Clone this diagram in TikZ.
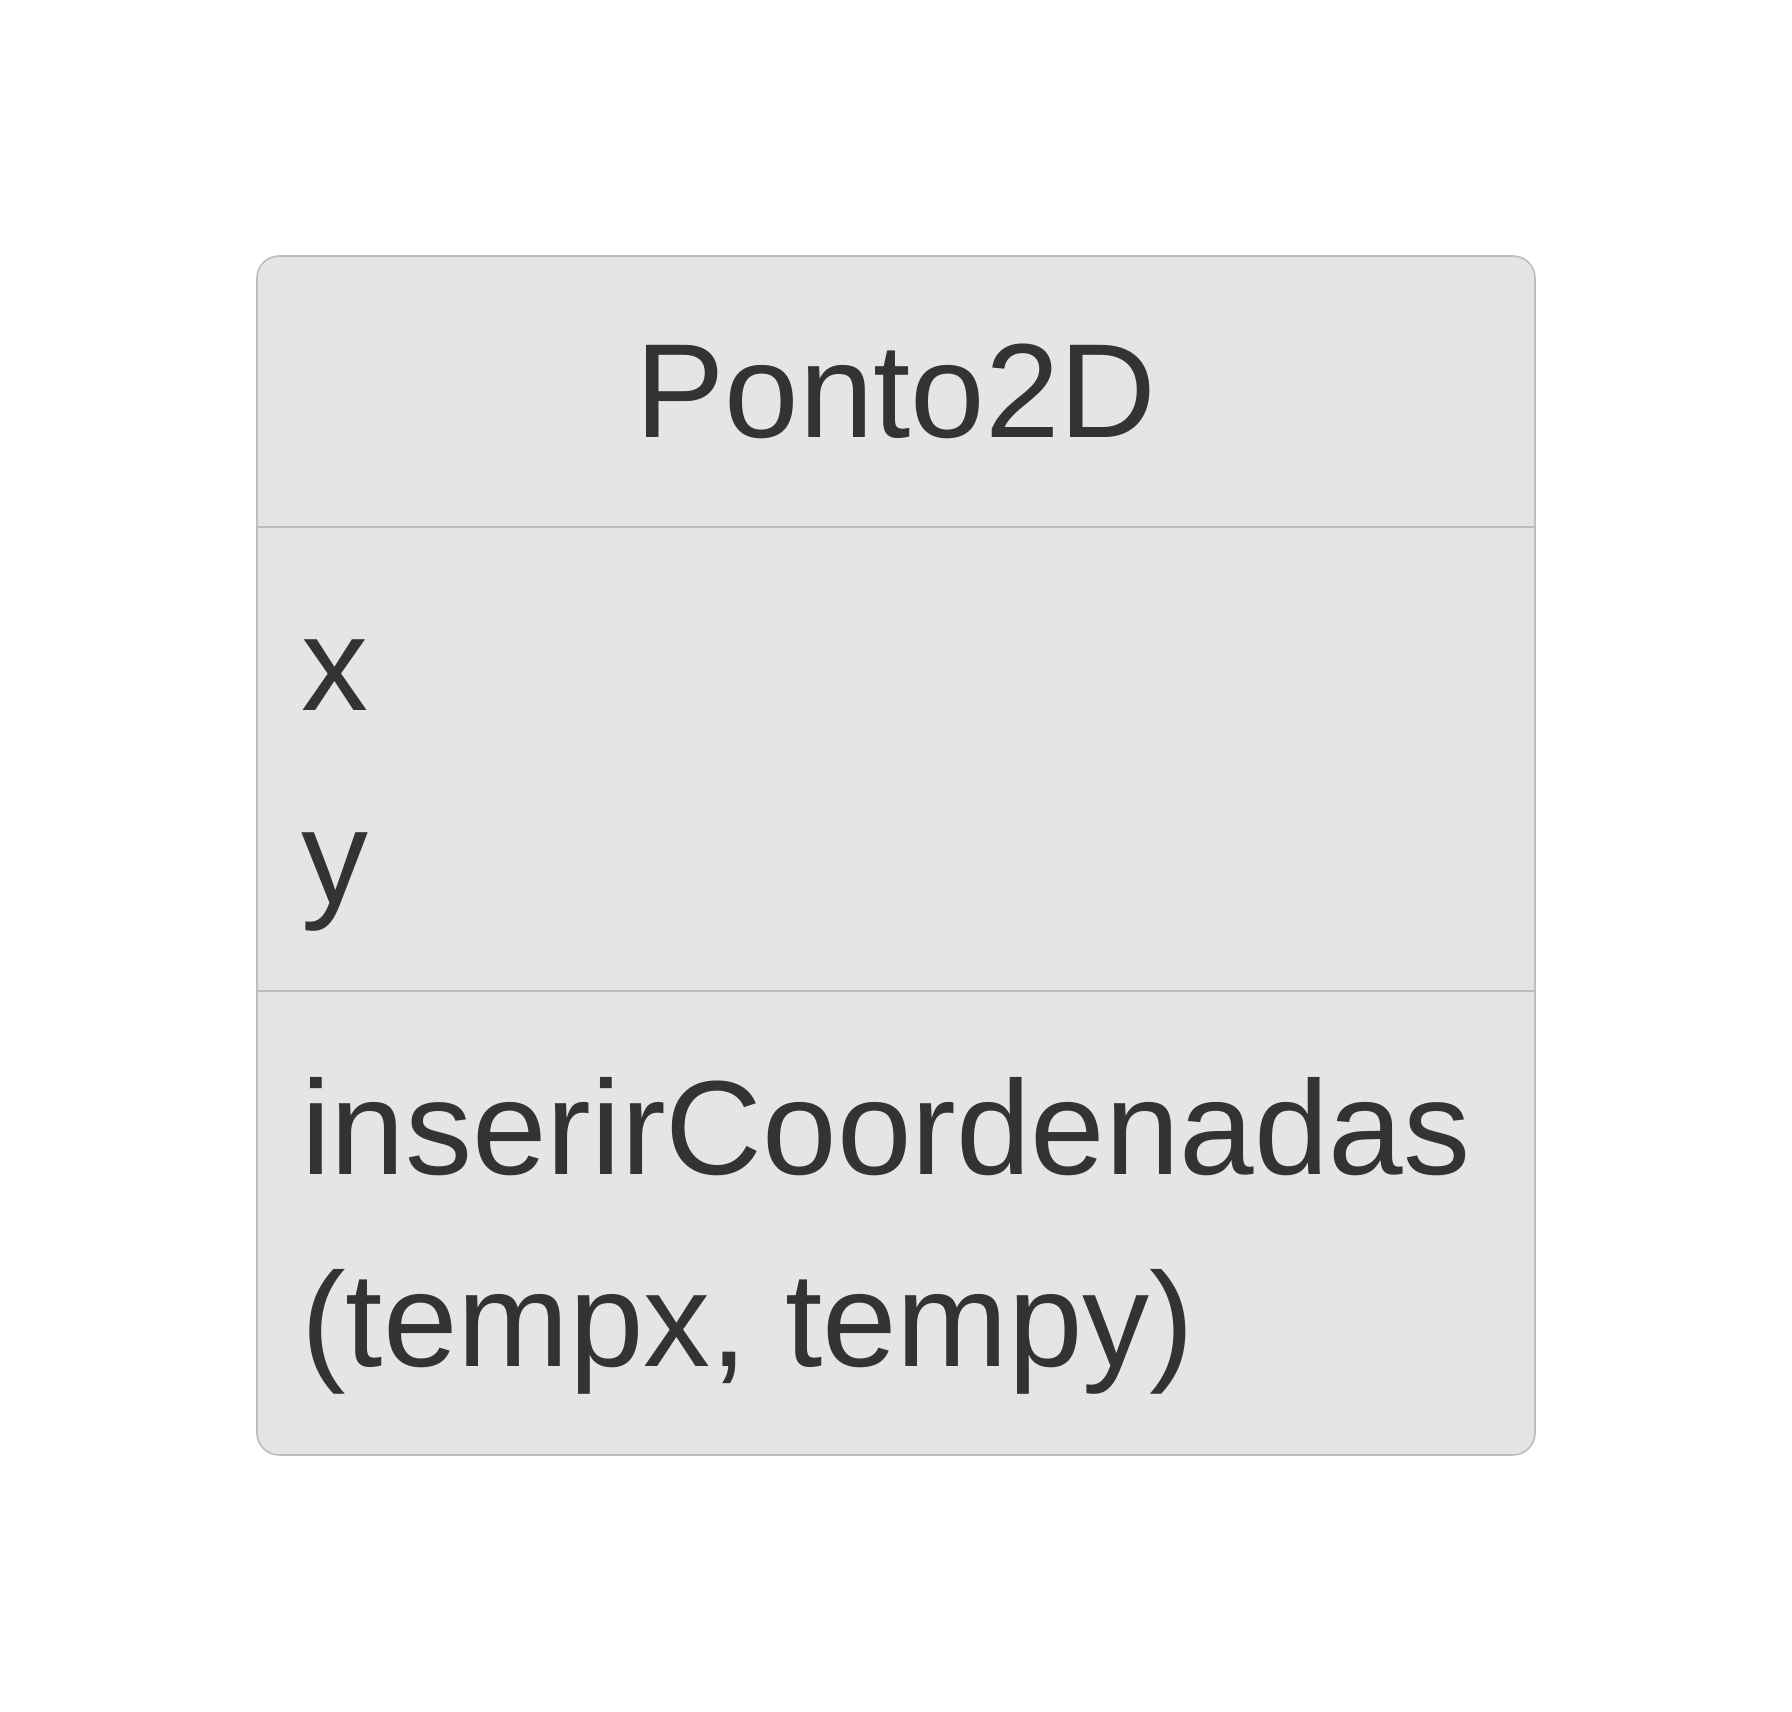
\documentclass[tikz,border=0pt]{standalone}
\usepackage{fontspec}
\setmainfont{Liberation Sans}
\begin{document}
\definecolor{boxfill}{HTML}{E5E5E5}
\definecolor{boxline}{HTML}{BDBDBD}
\definecolor{ink}{HTML}{333333}
\begin{tikzpicture}[x=1pt,y=-1pt,
  classbox/.style={draw=boxline,fill=boxfill,line width=1.6pt,rounded corners=22pt},
  divider/.style={draw=boxline,line width=1.6pt},
  member/.style={anchor=base west,inner sep=0pt,text=ink,font=\fontsize{134}{150}\selectfont},
  title/.style={anchor=base,inner sep=0pt,text=ink,font=\fontsize{134}{150}\selectfont}]
  \useasboundingbox (0,0) rectangle (1792,1712);
  % class frame and compartment dividers
  \draw[classbox] (257,256) rectangle (1535,1455);
  \draw[divider] (257,527) -- (1535,527);
  \draw[divider] (257,991) -- (1535,991);
  % class name
  \node[title] (name) at (896,437) {Ponto2D};
  % attributes
  \node[member] (ax) at (301,710) {x};
  \node[member] (ay) at (301,903) {y};
  % operation
  \node[member] (op1) at (301,1174) {inserirCoordenadas};
  \node[member] (op2) at (301,1366) {(tempx, tempy)};
\end{tikzpicture}
\end{document}
